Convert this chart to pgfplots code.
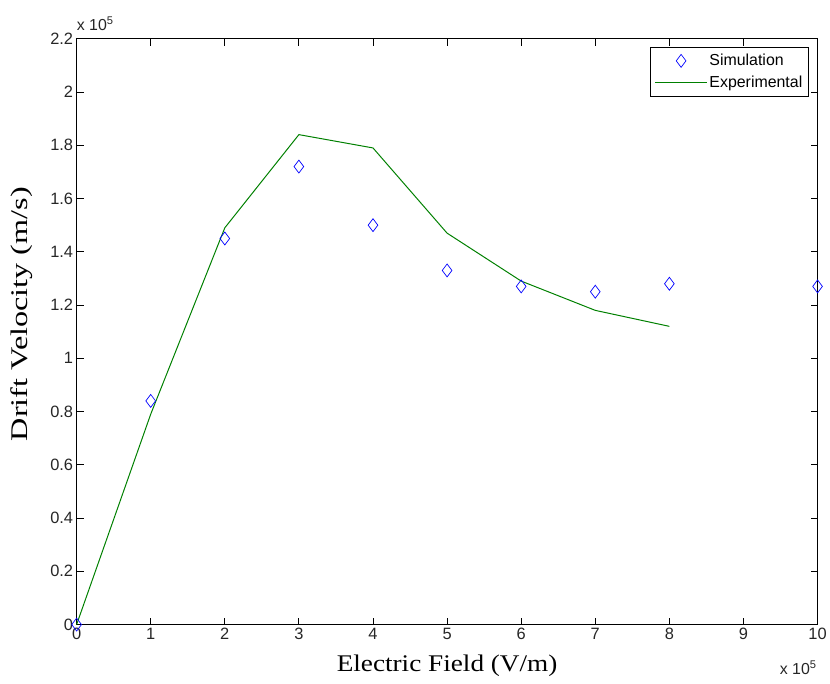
\documentclass[border=0pt]{standalone}
\usepackage{graphicx}
\usepackage{pgfplots}
\pgfplotsset{compat=1.18}
\usepackage{fontspec}
\setmainfont{Liberation Sans}
\newfontfamily\labelfont{Liberation Serif}
\definecolor{simblue}{RGB}{0,0,255}
\definecolor{expgreen}{RGB}{0,128,0}
\begin{document}
\begin{tikzpicture}
\begin{axis}[
  width=745pt, height=589pt, scale only axis,
  xmin=0, xmax=10, ymin=0, ymax=2.2,
  xtick={0,1,...,10},
  ytick={0,0.2,...,2.2},
  tick align=inside,
  major tick length=7pt,
  tick style={black, line width=0.8pt},
  axis line style={black, line width=0.8pt},
  scaled ticks=false,
  /pgf/number format/assume math mode=true,
  ticklabel style={font=\fontsize{16.5}{18}\selectfont, text=black!85},
  xlabel={\labelfont\fontsize{24}{28}\selectfont\scalebox{1.14}[1]{Electric Field (V/m)}},
  ylabel={\labelfont\fontsize{24}{28}\selectfont\scalebox{1.35}[1]{Drift Velocity (m/s)}},
  xlabel style={at={(axis description cs:0.5,-0.0798)}, anchor=base},
  ylabel style={at={(axis description cs:-0.0658,0.53)}, anchor=base},
  legend style={at={(rel axis cs:0.988,0.986)}, anchor=north east,
    draw=black, line width=0.8pt, font=\fontsize{16}{18}\selectfont,
    inner xsep=4pt, inner ysep=5pt, row sep=5pt},
  legend cell align=left,
  legend image code/.code={\draw[mark repeat=2,mark phase=2,#1] plot coordinates {(0pt,0pt) (26pt,0pt) (52pt,0pt)};},
  clip=false,
]
\addplot[only marks, mark=diamond, mark size=6.5pt, draw=simblue, mark options={line width=0.7pt}]
  coordinates {(0,0) (1,0.84) (2,1.45) (3,1.72) (4,1.50) (5,1.33) (6,1.27) (7,1.25) (8,1.28) (10,1.27)};
\addplot[expgreen, line width=1pt, no marks]
  coordinates {(0,0) (1,0.79) (2,1.49) (3,1.84) (4,1.79) (5,1.47) (6,1.29) (7,1.18) (8,1.12)};
\legend{Simulation,Experimental}
\node[anchor=base west, font=\fontsize{16}{18}\selectfont, text=black!85, inner sep=0pt]
  at (rel axis cs:0.0,1.0136) {x 10$^{\mathrm{5}}$};
\node[anchor=base east, font=\fontsize{16}{18}\selectfont, text=black!85, inner sep=0pt]
  at (rel axis cs:0.999,-0.0849) {x 10$^{\mathrm{5}}$};
\path (rel axis cs:-0.1034,-0.1002) rectangle (rel axis cs:1.0107,1.0662);
\end{axis}
\end{tikzpicture}
\end{document}
